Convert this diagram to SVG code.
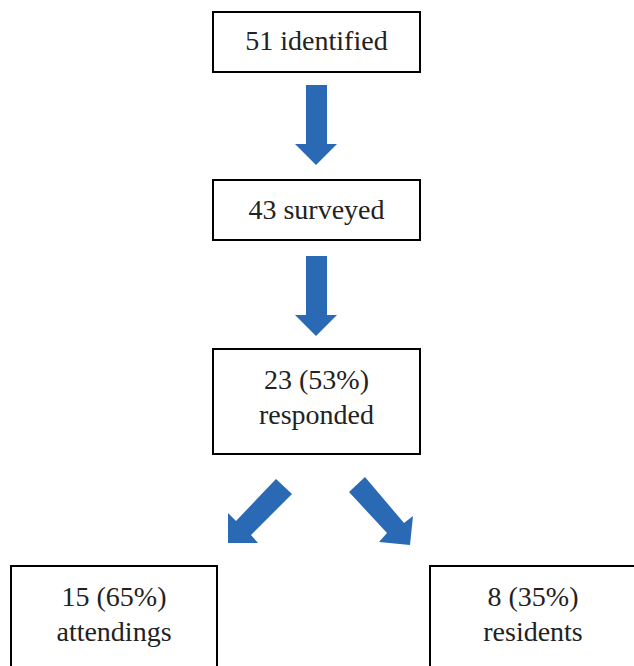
<svg xmlns="http://www.w3.org/2000/svg" width="634" height="666" viewBox="0 0 634 666">
<style>
.box{fill:#fff;stroke:#000;stroke-width:2}
.t{font-family:"Liberation Serif","Times New Roman",serif;font-size:28px;fill:#222;text-anchor:middle}
.arr{fill:#2A6AB4}
</style>
<rect width="634" height="666" fill="#fff"/>
<g id="n1"><rect class="box" x="213" y="12" width="207" height="60"/><text class="t" x="316.5" y="50">51 identified</text></g>
<g id="n2"><rect class="box" x="213" y="180" width="207" height="60"/><text class="t" x="316.5" y="219">43 surveyed</text></g>
<g id="n3"><rect class="box" x="213" y="349" width="207" height="105"/><text class="t" x="316.5" y="389">23 (53%)</text><text class="t" x="316.5" y="424">responded</text></g>
<g id="n4"><rect class="box" x="11" y="566" width="206" height="120"/><text class="t" x="114" y="606">15 (65%)</text><text class="t" x="114" y="641">attendings</text></g>
<g id="n5"><rect class="box" x="430" y="566" width="207" height="120"/><text class="t" x="533" y="606">8 (35%)</text><text class="t" x="533" y="641">residents</text></g>
<g id="connectors">
<polygon class="arr" points="306,85 327,85 327,144 337,144 316,165 295,144 306,144"/>
<polygon class="arr" points="306,256 327,256 327,315 337,315 316,336 295,315 306,315"/>
<polygon class="arr" points="276,479 292,494 251,535 258,543 228,543 228,513 236,521"/>
<polygon class="arr" points="365,477 349,492 387,533 379,542 410,545 413,516 404,523"/>
</g>
</svg>
